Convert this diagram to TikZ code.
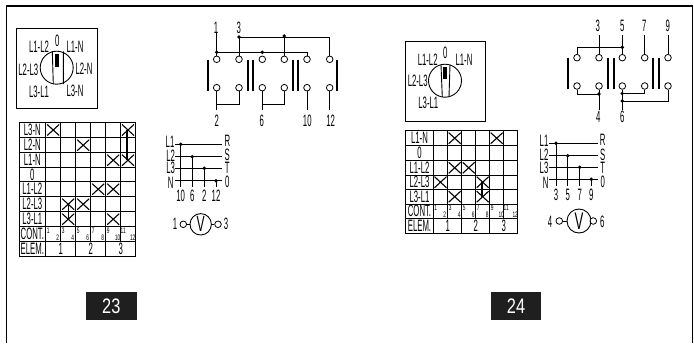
\documentclass[tikz,border=0pt]{standalone}
\usepackage{fontspec}
\setmainfont{Liberation Sans}
\newcommand{\nar}[4][.47]{\node[inner sep=0pt,font=\fontsize{#2}{#2}\selectfont] at (#3) {\scalebox{#1}[1]{#4}};}
\newcommand{\LB}[2]{\nar{16.5}{#1}{#2}}
\newcommand{\XX}[2]{\draw[line width=1.1pt] (#1-6,#2-5.5) -- (#1+6,#2+5.5) (#1-6,#2+5.5) -- (#1+6,#2-5.5);}
\tikzset{
  term/.style={circle,draw,fill=white,minimum size=6.6pt,inner sep=0pt,line width=.8pt},
  wire/.style={line width=.9pt},
  bar/.style={line width=2.3pt},
  dot/.style={circle,fill=black,minimum size=3.8pt,inner sep=0pt},
  tick/.style={line width=.85pt},
  badge/.style={fill=black!88,text=white,inner sep=0pt,font=\fontsize{21}{21}\selectfont}
}
\begin{document}
\begin{tikzpicture}[x=1pt,y=-1pt,line cap=butt]
\useasboundingbox (0,0) rectangle (694,343);
% frame
\draw[line width=1.3pt] (6.5,343) -- (6.5,6) -- (692.5,6) -- (692.5,343);

% === dial 1
\draw[tick] (16.7,28.7) rectangle (97.3,108.3);
\draw[wire] (56.7,67.7) circle (16.5);
\draw[wire] (52.3,51.3) -- (53.3,84) (63.3,51.3) -- (63.3,84);
\fill (55,53.5) rectangle (59,66.7);
\LB{57.3,41}{0}
\LB{39,46.7}{L1-L2}
\LB{75,46.7}{L1-N}
\LB{28.3,70}{L2-L3}
\LB{84,69}{L2-N}
\LB{39,91.7}{L3-L1}
\LB{75,91}{L3-N}

% === table 1
\draw[tick] (19,122.3) rectangle (135,256.7);
\foreach \y in {137.7,152.7,167.3,181.7,196.7,211.7,226.7,241.7} \draw[tick] (19,\y) -- (135,\y);
\foreach \x in {45.7,75.7,105.7} \draw[tick] (\x,122.3) -- (\x,256.7);
\foreach \x in {60.7,90.7,120.7} \draw[tick] (\x,122.3) -- (\x,241.7);
\foreach \y/\t in {130/L3-N,145.2/L2-N,160.2/L1-N,174.5/0,189.2/L1-L2,204.2/L2-L3,219.2/L3-L1,234.2/CONT.,249.2/ELEM.} {\LB{32.3,\y}{\t}}
\foreach \x/\a/\b in {45.7/1/2,75.7/5/6,105.7/9/10,60.7/3/4,90.7/7/8,120.7/11/12}{
  \nar[.6]{8}{\x+2.5,231}{\a}
  \nar[.6]{8}{\x+12,237.5}{\b}
}
\LB{60.7,249.2}{1}\LB{90.7,249.2}{2}\LB{120.7,249.2}{3}
\XX{53.2}{130}\XX{128}{130}
\XX{83.2}{145.2}
\XX{113.2}{160.2}\XX{128}{160.2}
\XX{98.2}{189.2}\XX{113.2}{189.2}
\XX{68.2}{204.2}\XX{83.2}{204.2}
\XX{68.2}{219.2}\XX{113.2}{219.2}
\draw[line width=1.1pt] (127,130) -- (127,160.2) (68.2,204.2) -- (68.2,219.2);

% === schematic 1
\foreach \n/\x in {a/216.7,b/239,c/262.3,d/284.3,e/307,f/329.7}{
  \node[term] (t\n) at (\x,59.3) {};
  \node[term] (u\n) at (\x,87.7) {};
}
\coordinate (wa) at (216.7,32);
\coordinate (wb) at (239,37);
\coordinate (la) at (216.7,110);
\coordinate (lc) at (262.3,110);
\coordinate (le) at (307,110);
\coordinate (lf) at (329.7,110);
\draw[wire] (wa) -- (ta);
\draw[wire] (wb) -- (tb);
\draw[wire] (216.7,52.3) -| (te);
\draw[wire] (wb) -| (tf);
\draw[wire] (td) -- (284.3,36.7);
\draw[wire] (ua) -- (la);
\draw[wire] (216.7,104) -| (ub);
\draw[wire] (uc) -- (lc);
\draw[wire] (262.3,104) -| (ud);
\draw[wire] (ue) -- (le);
\draw[wire] (uf) -- (lf);
\node[dot] at (216.7,52.3) {};
\node[dot] at (262.3,52.3) {};
\node[dot] at (239,37) {};
\node[dot] at (284.3,36) {};
\foreach \x in {207.7,247.7,253.3,292.7,298.3,337.3} \draw[bar] (\x,59.5) -- (\x,90.5);
\LB{216,27.5}{1}\LB{238.7,27.5}{3}
\LB{216.7,120.5}{2}\LB{261.7,120.5}{6}\LB{307.3,120.5}{10}\LB{330.7,120.5}{12}

% === wiring 1
\foreach \y in {144.3,156.7,168.3,180.7}{
  \draw[wire] (175,\y) -- (222.3,\y);
}
\LB{170,141.7}{L1}\LB{170.7,155.7}{L2}\LB{170.7,168.3}{L3}\LB{170.7,183.3}{N}
\LB{227.3,140.7}{R}\LB{227.3,155}{S}\LB{227.3,168.3}{T}\LB{227.3,182.3}{0}
\foreach \x/\y/\t in {180.7/144.3/10,192.3/156.7/6,204.3/168.3/2,216/180.7/12}{
  \draw[wire] (\x,\y) -- (\x,187);
  \node[dot] at (\x,\y) {};
  \LB{\x,195.5}{\t}
}
% voltmeter 1
\node[circle,draw,line width=.9pt,minimum size=21.4pt,inner sep=0pt] (v1) at (200.7,224.3) {};
\node[font=\fontsize{22}{22}\selectfont,inner sep=0pt] at (v1) {\scalebox{.55}[1]{V}};
\node[term] (v1a) at (183.3,224.3) {};
\node[term] (v1b) at (218,224.3) {};
\draw[wire] (v1a) -- (v1);
\draw[wire] (v1b) -- (v1);
\LB{175,223.5}{1}\LB{226,223.5}{3}

% === dial 2
\draw[tick] (405,41) rectangle (485.7,121);
\draw[wire] (445,80.7) circle (16.5);
\draw[wire] (441,64.7) -- (442.3,97) (450,64.7) -- (449,97);
\fill (443.3,66.7) rectangle (447.3,79);
\LB{445.3,52.7}{0}
\LB{427.7,60}{L1-L2}
\LB{464,60}{L1-N}
\LB{417.7,81}{L2-L3}
\LB{428.3,102.7}{L3-L1}

% === table 2
\draw[tick] (405.7,130.7) rectangle (517.7,233.3);
\foreach \y in {145.7,160.7,175,189.3,204,218.3} \draw[tick] (405.7,\y) -- (517.7,\y);
\foreach \x in {433.3,461.7,489.7} \draw[tick] (\x,130.7) -- (\x,233.3);
\foreach \x in {447.7,475.7,503.7} \draw[tick] (\x,130.7) -- (\x,218.3);
\foreach \y/\t in {138.2/L1-N,153.2/0,167.8/L1-L2,182.2/L2-L3,196.7/L3-L1,211.2/CONT.,225.8/ELEM.} {\LB{419.5,\y}{\t}}
\foreach \x/\a/\b in {433.3/1/2,461.7/5/6,489.7/9/10,447.7/3/4,475.7/7/8,503.7/11/12}{
  \nar[.6]{8}{\x+2.5,208}{\a}
  \nar[.6]{8}{\x+11.5,214.5}{\b}
}
\LB{447.7,225.8}{1}\LB{475.7,225.8}{2}\LB{503.7,225.8}{3}
\XX{454.7}{138.2}\XX{496.7}{138.2}
\XX{454.7}{167.8}\XX{468.7}{167.8}
\XX{440.5}{182.2}\XX{482.7}{182.2}
\XX{454.7}{196.7}\XX{482.7}{196.7}
\draw[line width=1.1pt] (482,182.2) -- (482,196.7);

% === schematic 2
\foreach \n/\x in {a/577,b/599,c/622.3,d/644.7,e/668}{
  \node[term] (p\n) at (\x,57.7) {};
  \node[term] (q\n) at (\x,86) {};
}
\coordinate (mb) at (599,35);
\coordinate (mc) at (622.3,35);
\coordinate (md) at (644.7,35);
\coordinate (me) at (668,35);
\coordinate (nb) at (599,110);
\coordinate (nc) at (622.3,110);
\draw[wire] (mb) -- (pb);
\draw[wire] (mc) -- (pc);
\draw[wire] (md) -- (pd);
\draw[wire] (me) -- (pe);
\draw[wire] (pa) |- (622.3,47.3);
\draw[wire] (qa) |- (599,94);
\draw[wire] (qb) -- (nb);
\draw[wire] (qc) -- (nc);
\draw[wire] (622.3,93.5) -| (qd);
\draw[wire] (622.3,101) -| (qe);
\node[dot] at (622.3,47.3) {};
\node[dot] at (599,94) {};
\node[dot] at (622.3,93.5) {};
\node[dot] at (622.3,101) {};
\foreach \x in {568.3,608.3,614,653.3,659} \draw[bar] (\x,57.7) -- (\x,89);
\LB{597.7,26}{3}\LB{622.3,26}{5}\LB{644.3,26}{7}\LB{667.7,25.5}{9}
\LB{598.3,117}{4}\LB{622.3,117}{6}

% === wiring 2
\foreach \y in {143.3,155.7,167.3,179.3}{
  \draw[wire] (549.3,\y) -- (597.7,\y);
}
\LB{544,140.7}{L1}\LB{544,155}{L2}\LB{544,168.3}{L3}\LB{545.7,183}{N}
\LB{602.7,140}{R}\LB{602.7,154.5}{S}\LB{602.7,167.7}{T}\LB{602.7,182}{0}
\foreach \x/\y/\t in {556/143.3/3,567.7/155.7/5,579.7/167.3/7,591.3/179.3/9}{
  \draw[wire] (\x,\y) -- (\x,186);
  \node[dot] at (\x,\y) {};
  \LB{\x,194.5}{\t}
}
% voltmeter 2
\node[circle,draw,line width=.9pt,minimum size=24pt,inner sep=0pt] (v2) at (579,221) {};
\node[font=\fontsize{24}{24}\selectfont,inner sep=0pt] at (v2) {\scalebox{.55}[1]{V}};
\node[term] (v2a) at (559.3,221) {};
\node[term] (v2b) at (593.3,221) {};
\draw[wire] (v2a) -- (v2);
\draw[wire] (v2b) -- (v2);
\LB{550,221.7}{4}\LB{602.3,221.7}{6}

% === badges
\node[badge,minimum width=50.7pt,minimum height=28pt] (b1) at (111.3,306) {\scalebox{.78}[1]{23}};
\node[badge,minimum width=50.7pt,minimum height=28pt] (b2) at (516,306) {\scalebox{.78}[1]{24}};
\end{tikzpicture}
\end{document}
